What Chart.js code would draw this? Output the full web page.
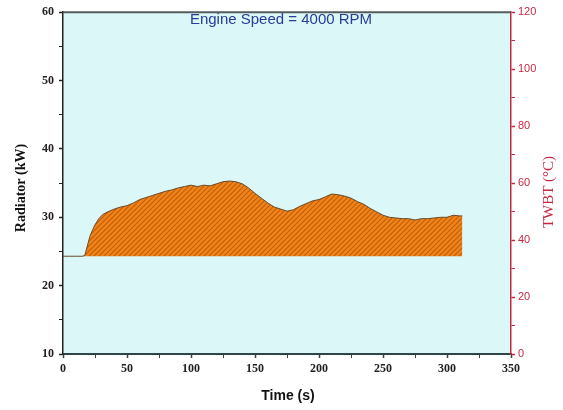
<!DOCTYPE html>
<html>
<head>
<meta charset="utf-8">
<script src="https://cdn.jsdelivr.net/npm/chart.js@4.4.1/dist/chart.umd.min.js"></script>
<style>
  html, body { margin: 0; padding: 0; background: #fff; }
  #wrap { width: 563px; height: 410px; }
</style>
</head>
<body>
<div id="wrap"><canvas id="canva1" width="563" height="410"></canvas></div>
<script>
// data
const timeS = [0, 5, 10, 15, 17, 19, 21, 23, 25, 28, 31, 35, 40, 45, 50, 55, 60, 65, 70, 75, 80, 85, 90, 95, 100, 105, 110, 115, 120, 125, 130, 135, 140, 145, 150, 155, 160, 165, 170, 175, 180, 185, 190, 195, 200, 205, 210, 215, 220, 225, 230, 235, 240, 245, 250, 255, 260, 265, 270, 275, 280, 285, 290, 295, 300, 305, 310, 312];
const radiatorKW = [24.3, 24.3, 24.3, 24.3, 24.4, 25.8, 27.2, 28.1, 28.9, 29.8, 30.4, 30.8, 31.2, 31.5, 31.7, 32.1, 32.6, 32.9, 33.2, 33.5, 33.8, 34.0, 34.3, 34.5, 34.7, 34.5, 34.7, 34.6, 34.9, 35.2, 35.3, 35.2, 34.9, 34.3, 33.5, 32.8, 32.1, 31.5, 31.2, 30.9, 31.1, 31.6, 32.0, 32.4, 32.6, 33.0, 33.4, 33.3, 33.1, 32.8, 32.3, 31.9, 31.3, 30.8, 30.3, 30.0, 29.9, 29.8, 29.8, 29.6, 29.8, 29.8, 29.9, 30.0, 30.0, 30.3, 30.2, 30.2];
const baseKW = 24.3;
const xRange = [0, 350];
const leftRange = [10, 60];
const rightRange = [0, 120];

window.onload = function(){
    // hatch pattern for the area
    let pc = document.createElement("canvas");
    pc.width = 5; pc.height = 5;
    let p = pc.getContext("2d");
    p.fillStyle = "#f08418";
    p.fillRect(0, 0, 5, 5);
    p.strokeStyle = "#c25e0c";
    p.lineWidth = 1.2;
    p.beginPath();
    p.moveTo(-1, 6); p.lineTo(6, -1);
    p.moveTo(-1, 1); p.lineTo(1, -1);
    p.moveTo(4, 6); p.lineTo(6, 4);
    p.stroke();
    let ctx = document.getElementById("canva1").getContext("2d");
    let hatch = ctx.createPattern(pc, "repeat");

    const frame = {
        id: "frame",
        beforeDraw(chart){
            let c = chart.ctx, a = chart.chartArea;
            c.save();
            c.fillStyle = "#dcf7f7";
            c.fillRect(a.left, a.top, a.right - a.left, a.bottom - a.top);
            c.restore();
        },
        afterDraw(chart){
            let c = chart.ctx, a = chart.chartArea;
            c.save();
            // top border
            c.strokeStyle = "#555d5d";
            c.lineWidth = 2;
            c.beginPath(); c.moveTo(a.left, a.top); c.lineTo(a.right, a.top); c.stroke();
            // texts
            c.fillStyle = "#2a3c96";
            c.font = "15px 'Liberation Sans', Arial";
            c.textAlign = "center"; c.textBaseline = "middle";
            c.fillText("Engine Speed = 4000 RPM", 281, 20);
            c.fillStyle = "#111";
            c.font = "bold 14px 'Liberation Sans', Arial";
            c.fillText("Time (s)", 288, 396);
            c.save();
            c.translate(21, 188); c.rotate(-Math.PI / 2);
            c.font = "bold 14px 'Liberation Serif', serif";
            c.fillText("Radiator (kW)", 0, 0);
            c.restore();
            c.save();
            c.translate(549, 192); c.rotate(-Math.PI / 2);
            c.fillStyle = "#c42842";
            c.font = "15px 'Liberation Serif', serif";
            c.fillText("TWBT (°C)", 0, 0);
            c.restore();
            c.restore();
        }
    };

    const majorW = (every) => (cx) => (cx.tick && cx.tick.value % every === 0) ? 1.5 : 1;

    new Chart(ctx, {
        type: "line",
        data: {
            datasets: [{
                data: timeS.map((t, i) => ({x: t, y: radiatorKW[i]})),
                borderColor: "#6a4a2a",
                borderWidth: 1,
                backgroundColor: hatch,
                fill: {value: baseKW},
                pointRadius: 0,
                tension: 0,
                yAxisID: "y"
            }]
        },
        options: {
            responsive: false,
            animation: false,
            layout: { padding: { top: 11, left: 0, right: 0, bottom: 0 } },
            plugins: { legend: { display: false }, tooltip: { enabled: false } },
            scales: {
                x: {
                    type: "linear", min: xRange[0], max: xRange[1],
                    afterFit(s){ s.height = 56; },
                    ticks: {
                        stepSize: 25, autoSkip: false, maxRotation: 0, padding: 4,
                        color: "#222", font: { family: "'Liberation Serif', serif", size: 12, weight: "bold" },
                        callback: (v) => v % 50 === 0 ? v : ""
                    },
                    grid: { drawOnChartArea: false, tickLength: 4, tickColor: "#2f4545", tickWidth: majorW(50) },
                    border: { display: true, color: "#2f4545", width: 2 }
                },
                y: {
                    position: "left", min: leftRange[0], max: leftRange[1],
                    afterFit(s){ s.width = 63; },
                    ticks: {
                        stepSize: 5, autoSkip: false, padding: 5,
                        color: "#222", font: { family: "'Liberation Serif', serif", size: 12, weight: "bold" },
                        callback: (v) => v % 10 === 0 ? v : ""
                    },
                    grid: { drawOnChartArea: false, tickLength: 4, tickColor: "#222", tickWidth: majorW(10) },
                    border: { display: true, color: "#222", width: 1.5 }
                },
                y2: {
                    position: "right", min: rightRange[0], max: rightRange[1],
                    afterFit(s){ s.width = 52; },
                    ticks: {
                        stepSize: 10, autoSkip: false, padding: 3,
                        color: "#c42842", font: { family: "'Liberation Sans', Arial", size: 11 },
                        callback: (v) => v % 20 === 0 ? v : ""
                    },
                    grid: { drawOnChartArea: false, tickLength: 4, tickColor: "#c42842", tickWidth: majorW(20) },
                    border: { display: true, color: "#c42842", width: 1.5 }
                }
            }
        },
        plugins: [frame]
    });
};
</script>
</body>
</html>
